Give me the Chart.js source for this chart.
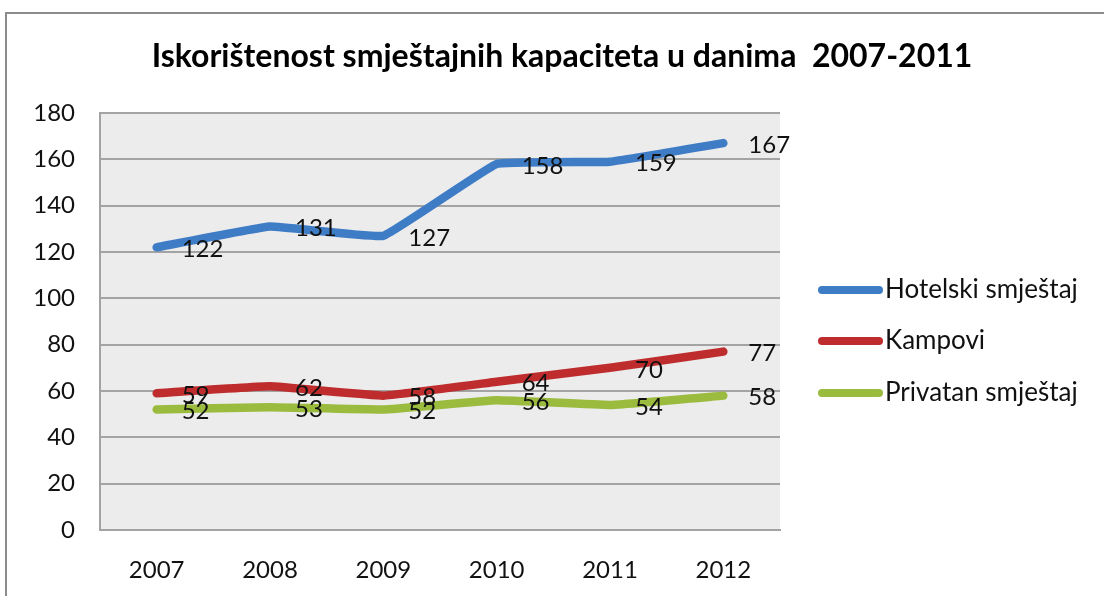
<!DOCTYPE html>
<html><head><meta charset="utf-8">
<script src="https://cdn.jsdelivr.net/npm/chart.js@4.4.0/dist/chart.umd.min.js"></script>
<style>
html,body{margin:0;padding:0;background:#fff;overflow:hidden;}
#frame{position:absolute;left:5px;top:12px;width:1200px;height:700px;border-top:2px solid #8c8c8c;border-left:2px solid #8c8c8c;}
#wrap{position:absolute;left:0;top:0;width:1104px;height:596px;}
</style></head><body>
<div id="frame"></div>
<div id="wrap"><canvas id="c" width="1104" height="596"></canvas></div>
<script>
const categories = ['2007','2008','2009','2010','2011','2012'];
const hotelski = [122,131,127,158,159,167];
const kampovi = [59,62,58,64,70,77];
const privatan = [52,53,52,56,54,58];
const seriesNames = ['Hotelski smještaj','Kampovi','Privatan smještaj'];
const seriesColors = ['#3f7cc6','#bf2c2d','#9bbb3f'];
const titleText = 'Iskorištenost smještajnih kapaciteta u danima  2007-2011';
const yMin = 0, yMax = 180, yStep = 20;

const FONT = 'Lato';

const plotBg = {
  id:'plotBg',
  beforeDraw(chart){
    const {ctx, chartArea:a} = chart;
    ctx.save();
    ctx.fillStyle = '#ececec';
    ctx.fillRect(a.left, a.top, a.right-a.left, a.bottom-a.top);
    ctx.restore();
  }
};

const titleDraw = {
  id:'titleDraw',
  afterDraw(chart){
    const ctx = chart.ctx;
    ctx.save();
    ctx.font = 'bold 32px ' + FONT;
    ctx.fillStyle = '#000';
    ctx.textAlign = 'center';
    ctx.textBaseline = 'middle';
    ctx.fillText(titleText, 562, 57);
    ctx.restore();
  }
};

const valueLabels = {
  id:'valueLabels',
  afterDatasetsDraw(chart){
    const ctx = chart.ctx;
    ctx.save();
    ctx.font = '24px ' + FONT;
    ctx.fillStyle = '#111';
    ctx.textAlign = 'left';
    ctx.textBaseline = 'middle';
    chart.data.datasets.forEach((ds,i)=>{
      chart.getDatasetMeta(i).data.forEach((pt,j)=>{
        ctx.fillText(String(ds.data[j]), pt.x+25, pt.y+2);
      });
    });
    ctx.restore();
  }
};

const sideLegend = {
  id:'sideLegend',
  afterDraw(chart){
    const ctx = chart.ctx;
    const ys = [290, 341, 393];
    ctx.save();
    ctx.font = '26px ' + FONT;
    ctx.textAlign = 'left';
    ctx.textBaseline = 'middle';
    chart.data.datasets.forEach((ds,i)=>{
      const y = ys[i];
      ctx.strokeStyle = ds.borderColor;
      ctx.lineWidth = 8;
      ctx.lineCap = 'round';
      ctx.beginPath();
      ctx.moveTo(822, y);
      ctx.lineTo(879, y);
      ctx.stroke();
      ctx.fillStyle = '#111';
      ctx.fillText(ds.label, 885, y);
    });
    ctx.restore();
  }
};

const seriesData = [hotelski, kampovi, privatan];

new Chart(document.getElementById('c'), {
  type:'line',
  data:{
    labels: categories,
    datasets: seriesData.map((d,i)=>({
      label: seriesNames[i],
      data: d,
      borderColor: seriesColors[i],
      backgroundColor: seriesColors[i],
      borderWidth: 8.5,
      pointRadius: 0,
      pointHoverRadius: 0,
      borderCapStyle: 'round',
      borderJoinStyle: 'round',
      tension: 0.08,
      fill: false
    }))
  },
  options:{
    responsive:false,
    animation:false,
    layout:{padding:{left:0,right:324,top:113,bottom:0}},
    plugins:{
      legend:{display:false},
      tooltip:{enabled:false},
      title:{display:false}
    },
    scales:{
      x:{
        offset:true,
        grid:{display:false,drawTicks:false},
        border:{display:true,color:'#a3a3a3',width:2},
        ticks:{color:'#111',font:{family:FONT,size:24},padding:26,maxRotation:0},
        afterFit(s){ s.height = 66; }
      },
      y:{
        min:yMin, max:yMax,
        grid:{color:'#a3a3a3',lineWidth:2,drawTicks:false},
        border:{display:true,color:'#a3a3a3',width:2},
        ticks:{stepSize:yStep,color:'#111',font:{family:FONT,size:24},padding:25},
        afterFit(s){ s.width = 100; }
      }
    }
  },
  plugins:[plotBg, valueLabels, sideLegend, titleDraw]
});
</script>
</body></html>
